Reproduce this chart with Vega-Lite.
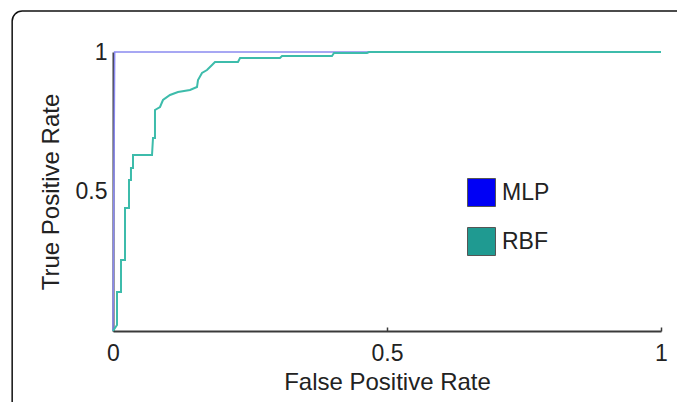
{
  "$schema": "https://vega.github.io/schema/vega-lite/v6.json",
  "width": 548,
  "height": 279,
  "autosize": "none",
  "padding": {"left": 113, "top": 52, "right": 16, "bottom": 71},
  "background": "white",
  "config": {
    "view": {"stroke": null},
    "font": "Liberation Sans",
    "axis": {
      "grid": false,
      "domainColor": "#3a3a3a",
      "domainWidth": 2,
      "ticks": false,
      "labelFont": "Liberation Sans",
      "labelFontSize": 23,
      "labelColor": "#222",
      "titleFont": "Liberation Sans",
      "titleFontSize": 24,
      "titleFontWeight": "normal",
      "titleColor": "#222"
    },
    "axisX": {"labelPadding": 15, "titlePadding": 5, "labelFlush": false, "ticks": true, "tickSize": -4, "tickColor": "#3a3a3a", "tickWidth": 1.5},
    "axisY": {"labelPadding": 6, "titlePadding": 12}
  },
  "datasets": {
    "frame": [{"x1": -0.184, "x2": 1.2, "y1": -0.5, "y2": 1.147}],
    "roc": [
      {"series": "MLP", "fpr": 0, "tpr": 0},
      {"series": "MLP", "fpr": 0.003, "tpr": 1},
      {"series": "MLP", "fpr": 1, "tpr": 1},
      {"series": "RBF", "fpr": 0, "tpr": 0},
      {"series": "RBF", "fpr": 0.0073, "tpr": 0.0215},
      {"series": "RBF", "fpr": 0.0073, "tpr": 0.1398},
      {"series": "RBF", "fpr": 0.0146, "tpr": 0.1398},
      {"series": "RBF", "fpr": 0.0146, "tpr": 0.2545},
      {"series": "RBF", "fpr": 0.0219, "tpr": 0.2545},
      {"series": "RBF", "fpr": 0.0219, "tpr": 0.4409},
      {"series": "RBF", "fpr": 0.0292, "tpr": 0.4409},
      {"series": "RBF", "fpr": 0.0292, "tpr": 0.5412},
      {"series": "RBF", "fpr": 0.0328, "tpr": 0.5412},
      {"series": "RBF", "fpr": 0.0328, "tpr": 0.5842},
      {"series": "RBF", "fpr": 0.0365, "tpr": 0.5842},
      {"series": "RBF", "fpr": 0.0365, "tpr": 0.6308},
      {"series": "RBF", "fpr": 0.0712, "tpr": 0.6308},
      {"series": "RBF", "fpr": 0.073, "tpr": 0.6918},
      {"series": "RBF", "fpr": 0.0766, "tpr": 0.6918},
      {"series": "RBF", "fpr": 0.0766, "tpr": 0.7921},
      {"series": "RBF", "fpr": 0.0858, "tpr": 0.8029},
      {"series": "RBF", "fpr": 0.0912, "tpr": 0.828},
      {"series": "RBF", "fpr": 0.104, "tpr": 0.8459},
      {"series": "RBF", "fpr": 0.1186, "tpr": 0.8566},
      {"series": "RBF", "fpr": 0.1405, "tpr": 0.8638},
      {"series": "RBF", "fpr": 0.1533, "tpr": 0.8746},
      {"series": "RBF", "fpr": 0.1551, "tpr": 0.8996},
      {"series": "RBF", "fpr": 0.1624, "tpr": 0.9247},
      {"series": "RBF", "fpr": 0.1715, "tpr": 0.9355},
      {"series": "RBF", "fpr": 0.1807, "tpr": 0.9534},
      {"series": "RBF", "fpr": 0.1861, "tpr": 0.9642},
      {"series": "RBF", "fpr": 0.2281, "tpr": 0.9642},
      {"series": "RBF", "fpr": 0.2318, "tpr": 0.9785},
      {"series": "RBF", "fpr": 0.3047, "tpr": 0.9785},
      {"series": "RBF", "fpr": 0.3084, "tpr": 0.9857},
      {"series": "RBF", "fpr": 0.3996, "tpr": 0.9857},
      {"series": "RBF", "fpr": 0.4033, "tpr": 0.9964},
      {"series": "RBF", "fpr": 0.4635, "tpr": 0.9964},
      {"series": "RBF", "fpr": 0.4672, "tpr": 1},
      {"series": "RBF", "fpr": 1, "tpr": 1}
    ]
  },
  "layer": [
    {
      "data": {"name": "frame"},
      "mark": {"type": "rect", "fill": null, "stroke": "#111", "strokeWidth": 1.5, "cornerRadius": 10, "clip": false},
      "encoding": {
        "x": {"field": "x1", "type": "quantitative", "scale": {"domain": [0, 1], "nice": false, "zero": false}, "axis": {"title": "False Positive Rate", "values": [0, 0.5, 1], "labelExpr": "datum.value == 0 ? '0' : datum.value == 1 ? '1' : '0.5'"}},
        "x2": {"field": "x2"},
        "y": {"field": "y1", "type": "quantitative", "scale": {"domain": [0, 1], "nice": false, "zero": false}, "axis": {"title": "True Positive Rate", "values": [0.5, 1], "labelExpr": "datum.value == 1 ? '1' : '0.5'"}},
        "y2": {"field": "y2"}
      }
    },
    {
      "data": {"name": "roc"},
      "transform": [{"filter": "datum.series == 'MLP'"}],
      "mark": {"type": "line", "stroke": "#8a8af0", "strokeWidth": 1.6, "interpolate": "linear"},
      "encoding": {
        "x": {"field": "fpr", "type": "quantitative", "scale": {"domain": [0, 1], "nice": false, "zero": false}, "title": "False Positive Rate"},
        "y": {"field": "tpr", "type": "quantitative", "scale": {"domain": [0, 1], "nice": false, "zero": false}, "title": "True Positive Rate"},
        "order": {"field": "fpr"}
      }
    },
    {
      "data": {"name": "roc"},
      "transform": [{"filter": "datum.series == 'RBF'"}],
      "mark": {"type": "line", "stroke": "#3dbcab", "strokeWidth": 2, "interpolate": "linear"},
      "encoding": {
        "x": {"field": "fpr", "type": "quantitative", "scale": {"domain": [0, 1], "nice": false, "zero": false}, "title": "False Positive Rate"},
        "y": {"field": "tpr", "type": "quantitative", "scale": {"domain": [0, 1], "nice": false, "zero": false}, "title": "True Positive Rate"},
        "order": {"field": "fpr"}
      }
    },
    {
      "data": {"name": "roc"},
      "mark": {"type": "point", "shape": "square", "opacity": 0, "filled": true},
      "encoding": {
        "x": {"field": "fpr", "type": "quantitative", "scale": {"domain": [0, 1], "nice": false, "zero": false}, "title": "False Positive Rate"},
        "y": {"field": "tpr", "type": "quantitative", "scale": {"domain": [0, 1], "nice": false, "zero": false}, "title": "True Positive Rate"},
        "fill": {
          "field": "series", "type": "nominal",
          "scale": {"domain": ["MLP", "RBF"], "range": ["#0000f5", "#1f9a91"]},
          "legend": {
            "title": null,
            "orient": "none",
            "legendX": 354,
            "legendY": 126,
            "padding": 0,
            "symbolType": "square",
            "symbolSize": 784,
            "symbolOpacity": 1,
            "symbolStrokeColor": "#555",
            "symbolStrokeWidth": 1,
            "labelFontSize": 23,
            "labelColor": "#222",
            "labelFont": "Liberation Sans",
            "labelOffset": 6,
            "rowPadding": 16,
            "encode": {"symbols": {"update": {"opacity": {"value": 1}, "fillOpacity": {"value": 1}, "strokeOpacity": {"value": 1}}}}
          }
        }
      }
    }
  ]
}
